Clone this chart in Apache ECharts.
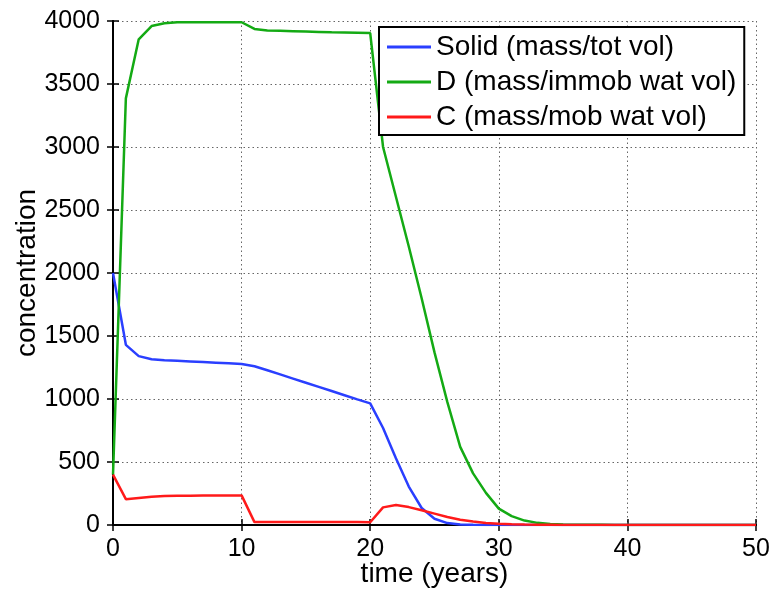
<!DOCTYPE html>
<html>
<head>
<meta charset="utf-8">
<script src="https://cdn.jsdelivr.net/npm/echarts@6/dist/echarts.min.js"></script>
<style>html,body{margin:0;padding:0;background:#fff}#c{width:773px;height:591px}</style>
</head>
<body>
<div id="c"></div>
<script>
var years = [];
for (var i = 0; i <= 50; i++) years.push(i);
var xTicks = [0, 10, 20, 30, 40, 50];
var yTicks = [0, 500, 1000, 1500, 2000, 2500, 3000, 3500, 4000];
var seriesNames = ['Solid (mass/tot vol)', 'D (mass/immob wat vol)', 'C (mass/mob wat vol)'];
var solid = [2000,1430,1340,1315,1308,1303,1298,1293,1288,1283,1278,1260,1228,1195,1162,1129,1096,1063,1030,997,965,770,530,305,135,50,15,4,1,0,0,0,0,0,0,0,0,0,0,0,0,0,0,0,0,0,0,0,0,0,0];
var dConc = [400,3386,3855,3960,3982,3990,3990,3990,3990,3990,3990,3937,3925,3922,3919,3916,3913,3910,3908,3906,3904,3000,2605,2210,1800,1370,975,620,410,255,130,70,35,17,8,4,2,1,1,0,0,0,0,0,0,0,0,0,0,0,0];
var cConc = [400,205,215,225,230,232,233,234,234,235,235,23,23,23,23,23,23,23,23,23,22,140,158,142,117,90,63,42,27,16,10,6,3,2,1,0,0,0,0,0,0,0,0,0,0,0,0,0,0,0,0];
var colors = ['#2a3fff', '#14aa14', '#ff1a1a'];

function pairs(arr) { return years.map(function (t, i) { return [t, arr[i]]; }); }

var font = '"Liberation Sans", Arial, Helvetica, sans-serif';
var chart = echarts.init(document.getElementById('c'));
var axisLine = { show: true, lineStyle: { color: '#000', width: 2 } };
var tick = { show: true, inside: true, length: 6, lineStyle: { color: '#000', width: 1.5 } };
var split = { show: true, lineStyle: { color: '#666', width: 1, type: [1.5, 3] } };
function plain(v) { return String(v); }

chart.setOption({
  animation: false,
  backgroundColor: '#fff',
  color: colors,
  grid: { left: 113, right: 17, top: 21, bottom: 66, containLabel: false, outerBoundsMode: 'none' },
  legend: {
    orient: 'vertical', left: 379, top: 27,
    padding: [6, 8, 4, 8],
    backgroundColor: '#fff', borderColor: '#000', borderWidth: 2, borderRadius: 0,
    itemWidth: 44, itemHeight: 3, itemGap: 7, icon: 'rect',
    textStyle: { fontFamily: font, fontSize: 28, color: '#000' },
    data: seriesNames
  },
  xAxis: [{
    type: 'value', min: 0, max: 50, interval: 10,
    name: 'time (years)', nameLocation: 'middle', nameGap: 35, nameMoveOverlap: false,
    nameTextStyle: { fontFamily: font, fontSize: 28, color: '#000' },
    axisLine: axisLine, axisTick: tick, splitLine: split,
    axisLabel: { fontFamily: font, fontSize: 25, color: '#000', margin: 12, formatter: plain }
  }, {
    type: 'value', min: 0, max: 50, interval: 10, position: 'top',
    axisLine: axisLine, axisTick: tick, splitLine: { show: false }, axisLabel: { show: false }
  }],
  yAxis: [{
    type: 'value', min: 0, max: 4000, interval: 500,
    name: 'concentration', nameLocation: 'middle', nameGap: 72, nameMoveOverlap: false,
    nameTextStyle: { fontFamily: font, fontSize: 28, color: '#000' },
    axisLine: axisLine, axisTick: tick, splitLine: split,
    axisLabel: { fontFamily: font, fontSize: 25, color: '#000', margin: 13, formatter: plain }
  }, {
    type: 'value', min: 0, max: 4000, interval: 500, position: 'right',
    axisLine: axisLine, axisTick: tick, splitLine: { show: false }, axisLabel: { show: false }
  }],
  series: [solid, dConc, cConc].map(function (arr, k) {
    return {
      name: seriesNames[k], type: 'line', data: pairs(arr),
      showSymbol: false, smooth: false,
      lineStyle: { width: 2.5, color: colors[k] }, itemStyle: { color: colors[k] }
    };
  })
});
</script>
</body>
</html>
